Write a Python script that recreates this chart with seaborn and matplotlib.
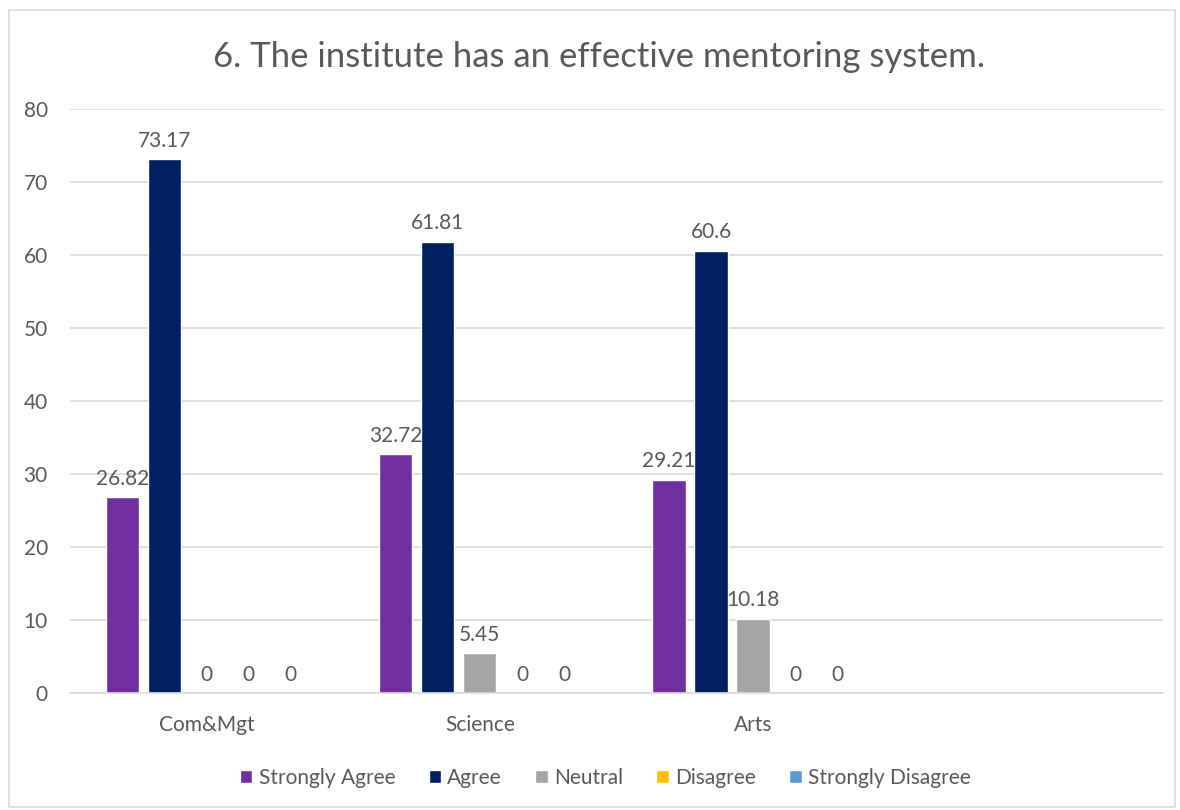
import matplotlib
matplotlib.use("Agg")
import matplotlib.pyplot as plt
import pandas as pd
import seaborn as sns
from matplotlib.patches import Rectangle

# --- data ---
streams = ["Com&Mgt", "Science", "Arts"]
responses = ["Strongly Agree", "Agree", "Neutral", "Disagree", "Strongly Disagree"]
strongly_agree = [26.82, 32.72, 29.21]
agree = [73.17, 61.81, 60.6]
neutral = [0, 5.45, 10.18]
disagree = [0, 0, 0]
strongly_disagree = [0, 0, 0]
colors = ["#7030A0", "#002060", "#A5A5A5", "#FFC000", "#5B9BD5"]

# Excel chart leaves an empty fourth category slot on the right
order = streams + [" "]

series = [strongly_agree, agree, neutral, disagree, strongly_disagree]
rows = []
for resp, vals in zip(responses, series):
    for stream, v in zip(streams, vals):
        rows.append({"stream": stream, "response": resp, "value": v})
df = pd.DataFrame(rows)

sns.set_theme(style="white")
plt.rcParams["font.family"] = ["Lato", "DejaVu Sans"]
text_col = "#595959"

fig = plt.figure(figsize=(11.8, 8.1), dpi=100)
ax = fig.add_axes([0.0593, 0.1444, 0.9263, 0.721])

sns.barplot(data=df, x="stream", y="value", hue="response", order=order,
            hue_order=responses, palette=colors, width=0.77, gap=0.21,
            saturation=1, errorbar=None, ax=ax, legend=True)

for cont in ax.containers:
    ax.bar_label(cont, labels=[f"{v:g}" for v in cont.datavalues],
                 padding=6, fontsize=15, color=text_col)

ax.set_ylim(0, 80)
ax.set_yticks(range(0, 81, 10))
ax.set_xlim(-0.5, len(order) - 0.5)
ax.yaxis.grid(True, color="#D9D9D9", linewidth=1.2)
ax.set_axisbelow(True)
for s in ["top", "right", "left"]:
    ax.spines[s].set_visible(False)
ax.spines["bottom"].set_color("#D9D9D9")
ax.spines["bottom"].set_linewidth(1.2)
ax.tick_params(axis="both", length=0, labelsize=15, labelcolor=text_col)
ax.tick_params(axis="x", pad=16)
ax.tick_params(axis="y", pad=16)
ax.set_xlabel("")
ax.set_ylabel("")

fig.text(0.508, 0.93, "6. The institute has an effective mentoring system.",
         ha="center", va="center", fontsize=25, color=text_col)

handles, labels = ax.get_legend_handles_labels()
ax.legend_.remove()
fig.legend(handles, labels, loc="center", bbox_to_anchor=(0.513, 0.04), ncol=5,
           frameon=False, fontsize=15, labelcolor=text_col, handlelength=0.6,
           handleheight=0.6, handletextpad=0.3, columnspacing=1.6)

fig.patches.append(Rectangle((0.008, 0.004), 0.988, 0.984, transform=fig.transFigure,
                             fill=False, edgecolor="#D9D9D9", linewidth=1.2))

fig.savefig("out.png", dpi=100)
